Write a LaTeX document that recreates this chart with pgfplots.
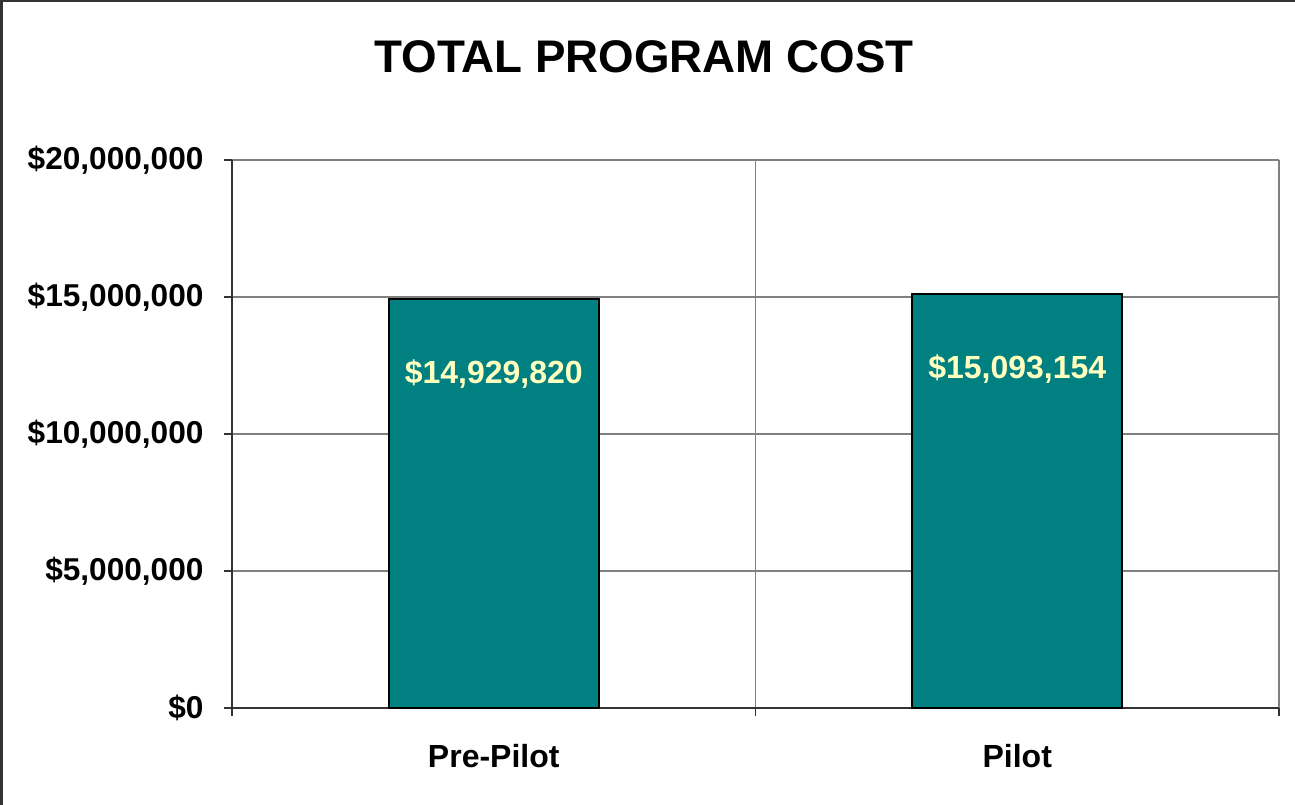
\documentclass[border=0pt]{standalone}
\usepackage{pgfplots}
\pgfplotsset{compat=1.18}
\usepackage{fontspec}
\setmainfont{Liberation Sans}
\definecolor{barteal}{HTML}{008080}
\definecolor{lblyellow}{HTML}{FFFFC0}
\definecolor{gridgray}{HTML}{808080}
\definecolor{axisdark}{HTML}{333333}
\begin{document}
\begin{tikzpicture}[x=1pt,y=1pt]
\useasboundingbox (-232,-97) rectangle (1063,708);
\begin{axis}[
  at={(0,0)}, anchor=south west,
  scale only axis, width=1047pt, height=548pt,
  xmin=0, xmax=2, ymin=0, ymax=20000000,
  axis x line*=bottom, axis y line*=left,
  axis line style={axisdark, line width=2pt},
  xtick={0,1,2}, xticklabels={},
  extra x ticks={0.5,1.5},
  extra x tick labels={Pre-Pilot,Pilot},
  extra x tick style={major tick length=0pt, grid=none,
     xticklabel style={font=\bfseries\fontsize{32}{36}\selectfont, yshift=-33pt}},
  ytick={0,5000000,10000000,15000000,20000000},
  yticklabels={{\$0},{\$5,000,000},{\$10,000,000},{\$15,000,000},{\$20,000,000}},
  scaled y ticks=false,
  yticklabel style={font=\bfseries\fontsize{31.6}{36}\selectfont, xshift=-17pt},
  tick align=outside, major tick length=8pt,
  tick style={axisdark, line width=1.5pt},
  xmajorgrids, ymajorgrids,
  major grid style={gridgray, line width=1.3pt},
  axis on top=false,
  clip=false,
]
\addplot[ybar, bar width=0.401, fill=barteal, draw=black, line width=2pt,
  point meta=explicit symbolic,
  nodes near coords={\$\pgfplotspointmeta},
  every node near coord/.append style={anchor=center, yshift=-75pt,
     text=lblyellow, font=\bfseries\fontsize{32}{36}\selectfont}]
  table[meta=label] {
  x y label
  0.5 14929820 14,929,820
  1.5 15093154 15,093,154
  };
\end{axis}
\node[font=\bfseries\fontsize{45.7}{50}\selectfont] at (412,651) {TOTAL PROGRAM COST};
\draw[axisdark, line width=2.5pt] (-230.5,-97) -- (-230.5,707) -- (1063,707);
\end{tikzpicture}
\end{document}
